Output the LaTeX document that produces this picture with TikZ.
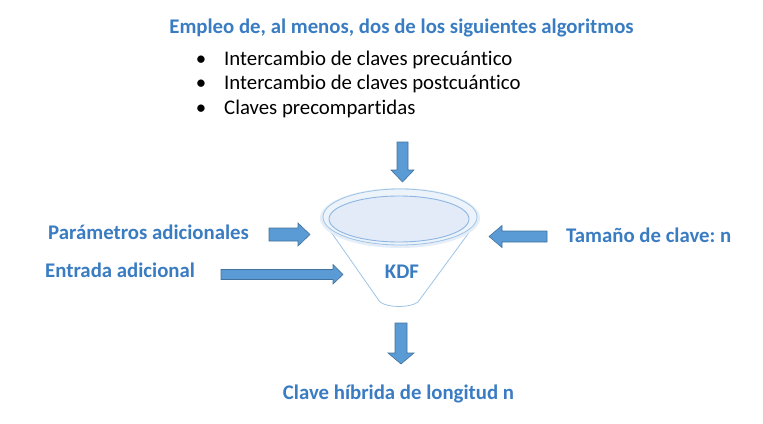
\documentclass[tikz,border=0pt]{standalone}
\usepackage{fontspec}
\setmainfont{Carlito}[Ligatures=NoCommon]
\frenchspacing
\definecolor{txtblue}{HTML}{3A7CC2}
\definecolor{arrfill}{HTML}{5B9BD5}
\definecolor{arredge}{HTML}{41719C}
\definecolor{funline}{HTML}{9DC3E6}
\definecolor{rimline}{HTML}{8DB6E2}
\definecolor{rimfill}{HTML}{E2EBF7}
\definecolor{halofill}{HTML}{EDF3FA}
\definecolor{glow}{HTML}{E4EDF8}
\tikzset{
  bluelabel/.style={font=\fontsize{20.8}{24}\selectfont\bfseries, text=txtblue, inner sep=0pt},
  bulletline/.style={font=\fontsize{20.8}{24}\selectfont, text=black, inner sep=0pt, anchor=base west},
  blockarrow/.style={fill=arrfill, draw=arredge, line width=0.6pt, line join=miter},
  funnelline/.style={draw=funline, line width=0.8pt}
}
\begin{document}
\begin{tikzpicture}[x=1pt,y=-1pt]
\useasboundingbox (0,0) rectangle (763,423);
% title and bullets
\node[bluelabel, anchor=base] (title) at (401.5,33.3) {Empleo de, al menos, dos de los siguientes algoritmos};
\node[bulletline, anchor=base] (b1) at (201,65) {•};
\node[bulletline] (t1) at (224,65) {Intercambio de claves precuántico};
\node[bulletline, anchor=base] (b2) at (201,89.5) {•};
\node[bulletline] (t2) at (224,89.5) {Intercambio de claves postcuántico};
\node[bulletline, anchor=base] (b3) at (201,114) {•};
\node[bulletline] (t3) at (224,114) {Claves precompartidas};
% funnel
\draw[funnelline] (324,222) -- (380,302) .. controls (388,308) and (410,308) .. (418,302) -- (476,223);
\fill[glow] (400,218) ellipse [x radius=80, y radius=30];
\draw[draw=funline, fill=halofill, line width=0.8pt] (400,217) ellipse [x radius=77, y radius=28];
\draw[draw=rimline, fill=rimfill, line width=0.9pt] (399,219) ellipse [x radius=70, y radius=23];
\node[bluelabel, anchor=base] (kdf) at (402,278) {KDF};
% side labels
\node[bluelabel, anchor=base west] (param) at (48,239) {Parámetros adicionales};
\node[bluelabel, anchor=base west] (entrada) at (45,277) {Entrada adicional};
\node[bluelabel, anchor=base west] (tam) at (566,242) {Tamaño de clave: n};
\node[bluelabel, anchor=base] (clave) at (398.5,399) {Clave híbrida de longitud n};
% block arrows
\draw[blockarrow] (397,142) -- (408,142) -- (408,170) -- (414,170) -- (402.5,182) -- (391,170) -- (397,170) -- cycle;
\draw[blockarrow] (395,323) -- (407,323) -- (407,353) -- (414,353) -- (401,364) -- (388,353) -- (395,353) -- cycle;
\draw[blockarrow] (269,228) -- (298,228) -- (298,223) -- (310,234.5) -- (298,246) -- (298,241) -- (269,241) -- cycle;
\draw[blockarrow] (221,269.5) -- (333,269.5) -- (333,264.5) -- (343,274.5) -- (333,284) -- (333,279.5) -- (221,279.5) -- cycle;
\draw[blockarrow] (547,231) -- (502,231) -- (502,225.5) -- (489,236.5) -- (502,247.5) -- (502,242) -- (547,242) -- cycle;
\end{tikzpicture}
\end{document}
